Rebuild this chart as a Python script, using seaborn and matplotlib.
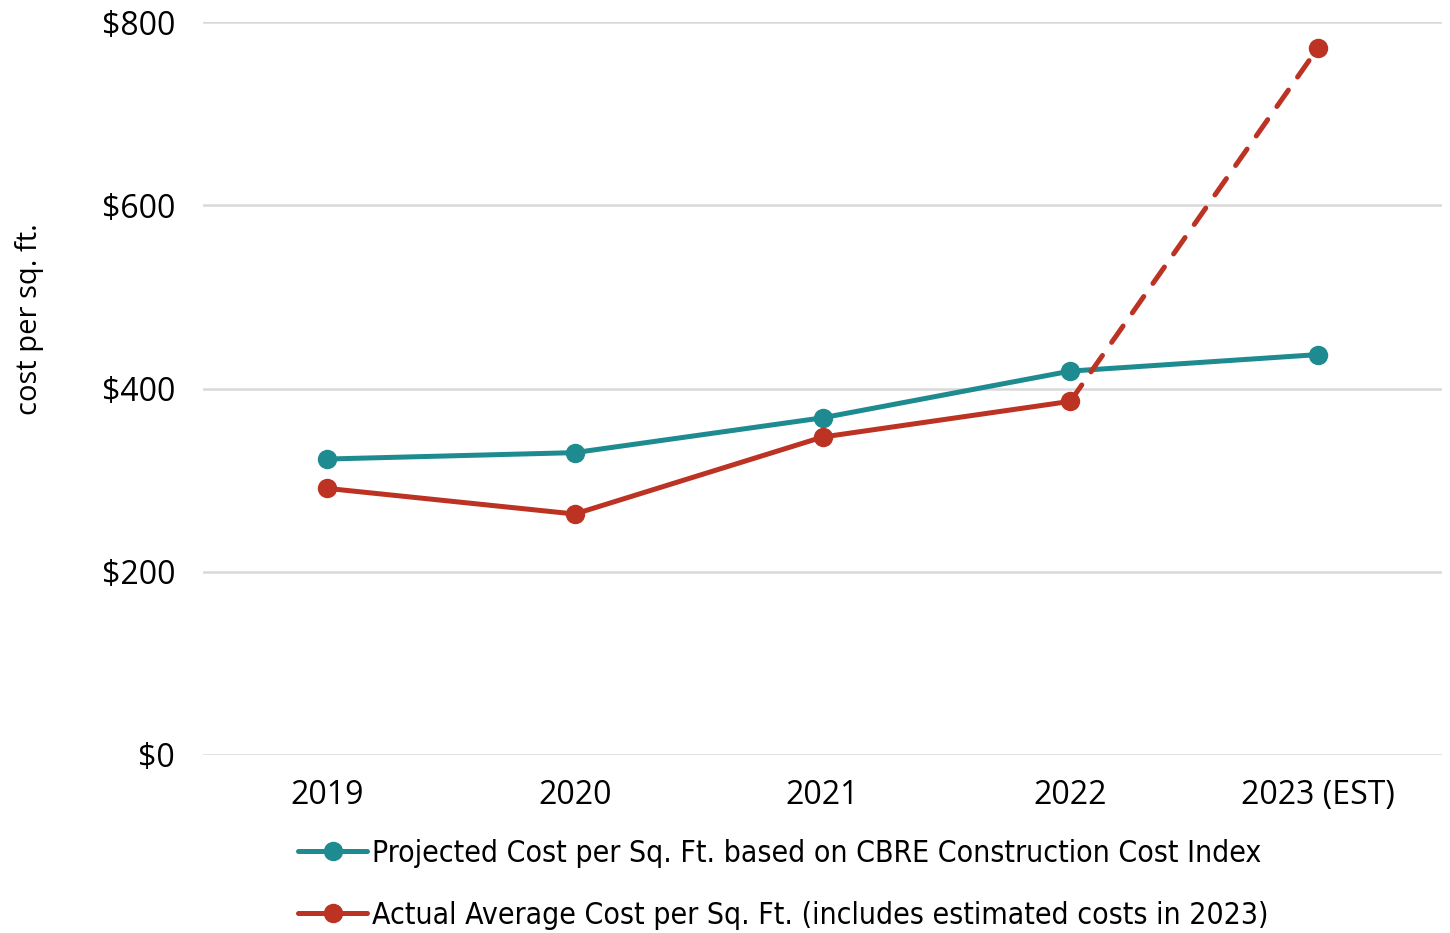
import matplotlib
matplotlib.use("Agg")
import matplotlib.pyplot as plt
from matplotlib.lines import Line2D
from matplotlib.font_manager import FontProperties, fontManager
import seaborn as sns
import pandas as pd

years = ["2019", "2020", "2021", "2022", "2023 (EST)"]
projected = [323, 330, 368, 419, 437]
actual = [291, 263, 347, 386, 772]
yticks = [0, 200, 400, 600, 800]
ytick_labels = ["$0", "$200", "$400", "$600", "$800"]
legend_labels = [
    "Projected Cost per Sq. Ft. based on CBRE Construction Cost Index",
    "Actual Average Cost per Sq. Ft. (includes estimated costs in 2023)",
]

teal = "#1E8B91"
red = "#BC3223"

sns.set_theme(style="white")
plt.rcParams["font.family"] = ["Open Sans", "DejaVu Sans"]
plt.rcParams["text.color"] = "black"
plt.rcParams["axes.labelcolor"] = "black"

fig = plt.figure(figsize=(14.5, 9.33), dpi=100)
ax = fig.add_axes([0.14, 0.1908, 0.8545, 0.7856])

df_p = pd.DataFrame({"year": years, "cost": projected})
df_a_solid = pd.DataFrame({"year": years[:4], "cost": actual[:4]})
df_a_dash = pd.DataFrame({"year": years[3:], "cost": actual[3:]})

lw = 3.6
ms = 14
sns.lineplot(data=df_p, x="year", y="cost", ax=ax, color=teal, lw=lw,
             marker="o", markersize=ms, markeredgewidth=0, sort=False, zorder=3)
sns.lineplot(data=df_a_solid, x="year", y="cost", ax=ax, color=red, lw=lw,
             marker="o", markersize=ms, markeredgewidth=0, sort=False, zorder=4)
sns.lineplot(data=df_a_dash, x="year", y="cost", ax=ax, color=red, lw=lw,
             sort=False, zorder=5)
ax.lines[-1].set_dashes((4, 3.2))
ax.lines[-1].set_dash_capstyle("round")
sns.scatterplot(x=years[4:], y=actual[4:], ax=ax, color=red, s=ms ** 2,
                linewidth=0, zorder=6)

ax.set_xlim(-0.5, 4.5)
ax.set_ylim(0, 800)
ax.set_yticks(yticks)
ax.set_yticklabels(ytick_labels)
ax.tick_params(axis="both", length=0, labelsize=23, colors="black")
ax.tick_params(axis="x", pad=17)
ax.tick_params(axis="y", pad=20)
ax.set_xlabel("")
ax.set_ylabel("cost per sq. ft.", fontsize=21)
ax.yaxis.set_label_coords(-0.128, 0.595)
ax.grid(axis="y", color="#D9D9D9", lw=1.8)
ax.grid(axis="x", visible=False)
for s in ax.spines.values():
    s.set_visible(False)

names = {f.name for f in fontManager.ttflist}
if "Liberation Sans Narrow" in names:
    leg_fp = FontProperties(family="Liberation Sans Narrow", size=23.7)
else:
    leg_fp = FontProperties(family="DejaVu Sans", stretch="condensed", size=21.6)

handles = [
    Line2D([0], [0], color=teal, lw=lw, marker="o", markersize=ms, markeredgewidth=0),
    Line2D([0], [0], color=red, lw=lw, marker="o", markersize=ms, markeredgewidth=0),
]
leg = fig.legend(handles, legend_labels, loc="upper center",
                 bbox_to_anchor=(0.540, 0.114), ncol=1, frameon=False,
                 prop=leg_fp,
                 handlelength=2.3, handletextpad=0.15, labelspacing=1.1,
                 borderaxespad=0)

fig.savefig("out.png", dpi=100)
